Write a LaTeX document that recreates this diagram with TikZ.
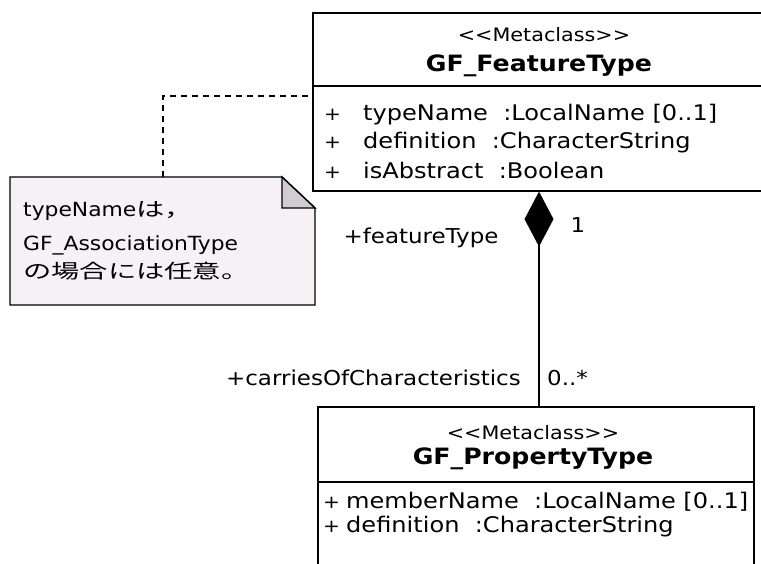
\documentclass[tikz,border=0pt]{standalone}
\usepackage{fontspec}
\setmainfont{DejaVu Sans}[FakeStretch=1.12]
\newfontfamily\jpfont{Noto Sans CJK JP}[FakeStretch=1.45]
\usetikzlibrary{arrows.meta}

\definecolor{notefill}{RGB}{246,241,245}
\definecolor{foldfill}{RGB}{210,205,210}

\newcommand{\visplus}[1]{\makebox[#1][l]{\fontsize{18}{20}\selectfont +}}

\tikzset{
  classbox/.style={draw=black, line width=1.6pt, fill=white, anchor=north west, inner sep=0pt},
  stereo/.style={font=\fontsize{18.5}{22}\selectfont, inner sep=0pt},
  classname/.style={font=\bfseries\fontsize{22.5}{26}\selectfont, inner sep=0pt},
  attr/.style={font=\fontsize{21.5}{25}\selectfont, anchor=west, inner sep=0pt},
  rolelabel/.style={font=\fontsize{20.5}{24}\selectfont, inner sep=0pt},
  notetext/.style={font=\fontsize{19.5}{24}\selectfont, anchor=west, inner sep=0pt},
  dashlink/.style={line width=1.4pt, dash pattern=on 6pt off 5pt},
}

\begin{document}
\begin{tikzpicture}[x=1pt, y=-1pt]
\useasboundingbox (0,0) rectangle (761,564);
\clip (0,0) rectangle (761,564);

% class boxes
\node[classbox, minimum width=472pt, minimum height=178pt] (ft) at (312,12) {};
\node[classbox, minimum width=436pt, minimum height=200pt] (pt) at (317,406) {};
\coordinate (ftdiv) at (0,86);
\coordinate (ptdiv) at (0,482);
\draw[line width=1.6pt] (ft.west |- ftdiv) -- (ft.east |- ftdiv);
\draw[line width=1.6pt] (pt.west |- ptdiv) -- (pt.east |- ptdiv);

\node[stereo] (ftstereo) at (544,35) {<\kern0pt<Metaclass>\kern0pt>};
\node[classname] (ftname) at (539,66) {GF\_FeatureType};
\node[attr] (fta1) at (324,115) {\visplus{39pt}typeName\ \ :LocalName [0..1]};
\node[attr] (fta2) at (324,143) {\visplus{39pt}definition\ \ :CharacterString};
\node[attr] (fta3) at (324,170) {\visplus{39pt}isAbstract\ \ :Boolean};

\node[stereo] (ptstereo) at (533,433) {<\kern0pt<Metaclass>\kern0pt>};
\node[classname] (ptname) at (533,459) {GF\_PropertyType};
\node[attr] (pta1) at (323,502) {\visplus{23pt}memberName\ \ :LocalName [0..1]};
\node[attr] (pta2) at (323,527) {\visplus{23pt}definition\ \ :CharacterString};

% composition
\coordinate (aggx) at (539,0);
\draw[line width=1.6pt, {Diamond[fill=black, width=29pt, length=55pt]}-]
  (ft.south -| aggx) -- (pt.north -| aggx);
\node[rolelabel] (ftrole) at (421,238) {+featureType};
\node[rolelabel] (ftmult) at (578,225) {1};
\node[rolelabel, anchor=east] (ptrole) at (521,378) {+carriesOfCharacteristics};
\node[rolelabel, anchor=west] (ptmult) at (547,378) {0..*};

% note
\filldraw[line width=1.4pt, fill=notefill]
  (10,177) -- (282,177) -- (315,208) -- (315,305) -- (10,305) -- cycle;
\filldraw[line width=1.4pt, fill=foldfill]
  (282,177) -- (282,208) -- (315,208) -- cycle;
\node[notetext] (note1) at (23,211) {typeName{\jpfont は，}};
\node[notetext] (note2) at (23,245) {GF\_AssociationType};
\node[notetext] (note3) at (23,271) {\jpfont の場合には任意。};

\coordinate (notetop) at (163,177);
\coordinate (linky) at (0,96);
\draw[dashlink] (notetop) |- (ft.west |- linky);

\end{tikzpicture}
\end{document}
